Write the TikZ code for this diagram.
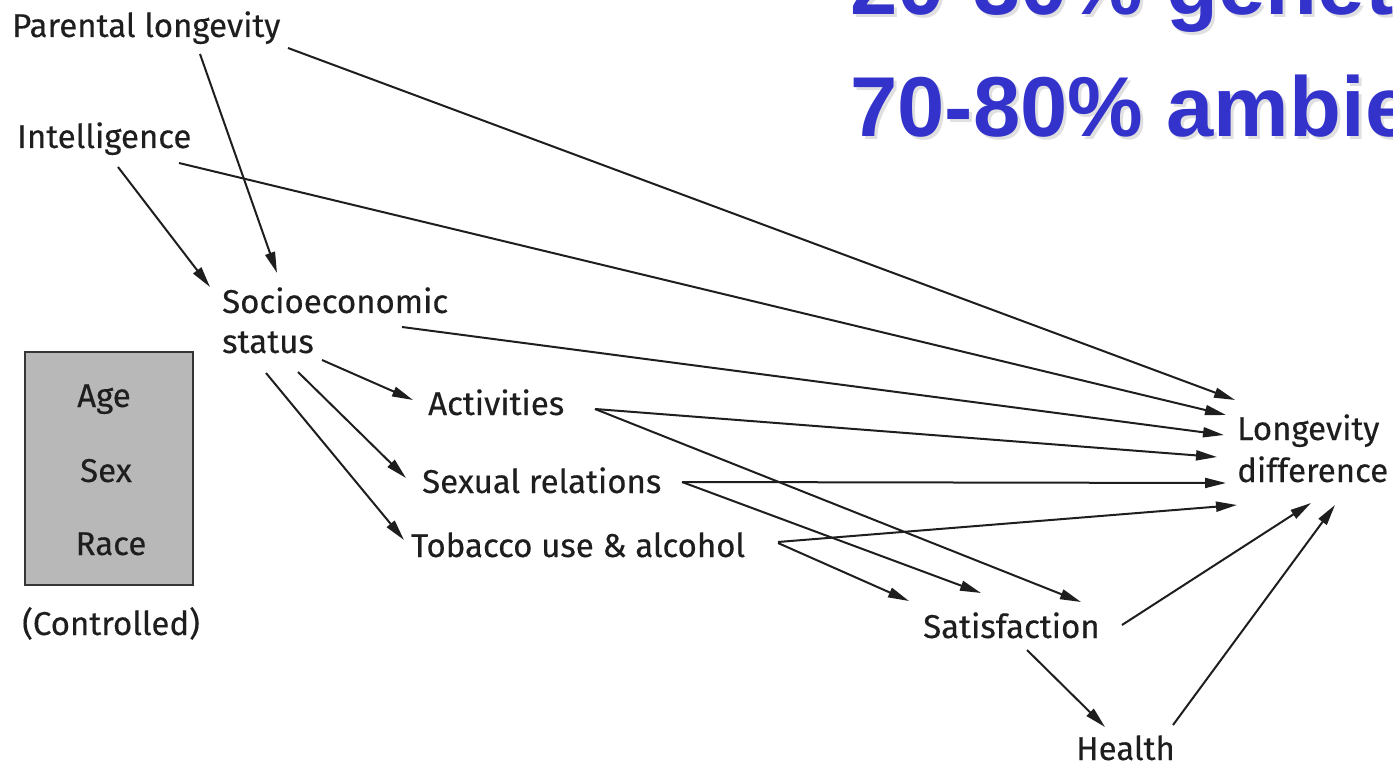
\documentclass[tikz,border=0pt]{standalone}
\usepackage{fontspec}
\setmainfont{Fira Sans}
\newfontfamily\slidefont{Liberation Sans}
\usetikzlibrary{arrows.meta, calc, positioning}
\definecolor{ink}{HTML}{1E1E1E}
\definecolor{slideblue}{HTML}{3333CC}
\definecolor{boxgray}{HTML}{B8B8B8}

\begin{document}
\begin{tikzpicture}[x=1pt, y=-1pt,
                    lab/.style={inner sep=0pt, anchor=base west, text=ink, font=\fontsize{33}{40}\selectfont\addfontfeature{FakeBold=0.3}},
                    arr/.style={draw=ink, line width=2pt, -{Triangle[length=21pt, width=10pt]}},
                    big/.style={inner sep=0pt, anchor=base west, font=\slidefont\bfseries\fontsize{85}{96}\selectfont}]
                    \useasboundingbox (0,0) rectangle (1393,767);
                    \clip (0,0) rectangle (1393,767);
                    % slide title, cut off by the frame
                    \node[big, text=black!12] at (853,18) {20-30\% genet};
                    \node[big, text=slideblue](gen) at (850,15) {20-30\% genet};
                    \node[big, text=black!12] at (853,140) {70-80\% ambie};
                    \node[big, text=slideblue](amb) at (850,137) {70-80\% ambie};
                    % controlled variables
                    \node[draw=ink!90, line width=2pt, fill=boxgray, minimum width=168pt, minimum height=233pt](box) at (109,468.5){};
                    \node[lab, anchor=base](age) at (104,407) {Age};
                    \node[lab, anchor=base](sx) at (106,482) {Sex};
                    \node[lab, anchor=base](race) at (111,555) {Race};
                    \node[lab](ctl) at (22,635) {(Controlled)};
                    % factors
                    \node[lab](par) at (12,37) {Parental longevity};
                    \node[lab](int) at (17,148) {Intelligence};
                    \node[lab](soc) at (222,313) {Socioeconomic};
                    \node[lab, below=40pt of soc.base west, anchor=base west](sta) {status};
                    \node[lab](act) at (428,415) {Activities};
                    \node[lab](sex) at (422,493) {Sexual relations};
                    \node[lab](tob) at (411,557) {Tobacco use \& alcohol};
                    \node[lab](sat) at (923,638) {Satisfaction};
                    \node[lab](hea) at (1076,760) {Health};
                    \node[lab](lon) at (1237,440) {Longevity};
                    \node[lab, below=42pt of lon.base west, anchor=base west](dif) {difference};
                    % into socioeconomic status
                    \draw[arr] ($(par.base west)+(188,17)$) -- ($(soc.base west)+(55,-40)$);
                    \draw[arr] ($(int.base west)+(101,19)$) -- ($(soc.base west)+(-12,-26)$);
                    % out of socioeconomic status
                    \draw[arr] ($(sta.base west)+(100,7)$) -- ($(act.base west)+(-15,-15)$);
                    \draw[arr] ($(sta.base west)+(76,19)$) -- ($(sex.base west)+(-16,-15)$);
                    \draw[arr] ($(sta.base west)+(44,20)$) -- ($(tob.base west)+(-7,-17)$);
                    % into satisfaction
                    \draw[arr] ($(act.base west)+(167,-6)$) -- ($(sat.base west)+(158,-36)$);
                    \draw[arr] ($(sex.base west)+(260,-11)$) -- ($(sat.base west)+(58,-45)$);
                    \draw[arr] ($(tob.base west)+(367,-14)$) -- ($(sat.base west)+(-14,-37)$);
                    \draw[arr] ($(sat.base west)+(104,12)$) -- ($(hea.base west)+(29,-33)$);
                    % into longevity difference
                    \draw[arr] ($(par.base west)+(276,11)$) -- ($(lon.base west)+(-2,-40)$);
                    \draw[arr] ($(int.base west)+(162,15)$) -- ($(lon.base west)+(-11,-25)$);
                    \draw[arr] ($(soc.base west)+(180,14)$) -- ($(lon.base west)+(-13,-5)$);
                    \draw[arr] ($(act.base west)+(167,-6)$) -- ($(lon.base west)+(-20,17)$);
                    \draw[arr] ($(sex.base west)+(260,-11)$) -- ($(dif.base west)+(-11,1)$);
                    \draw[arr] ($(tob.base west)+(367,-15)$) -- ($(dif.base west)+(0,23)$);
                    \draw[arr] ($(sat.base west)+(199,-13)$) -- ($(dif.base west)+(74,21)$);
                    \draw[arr] ($(hea.base west)+(97,-35)$) -- ($(dif.base west)+(98,23)$);
                \end{tikzpicture}
\end{document}
